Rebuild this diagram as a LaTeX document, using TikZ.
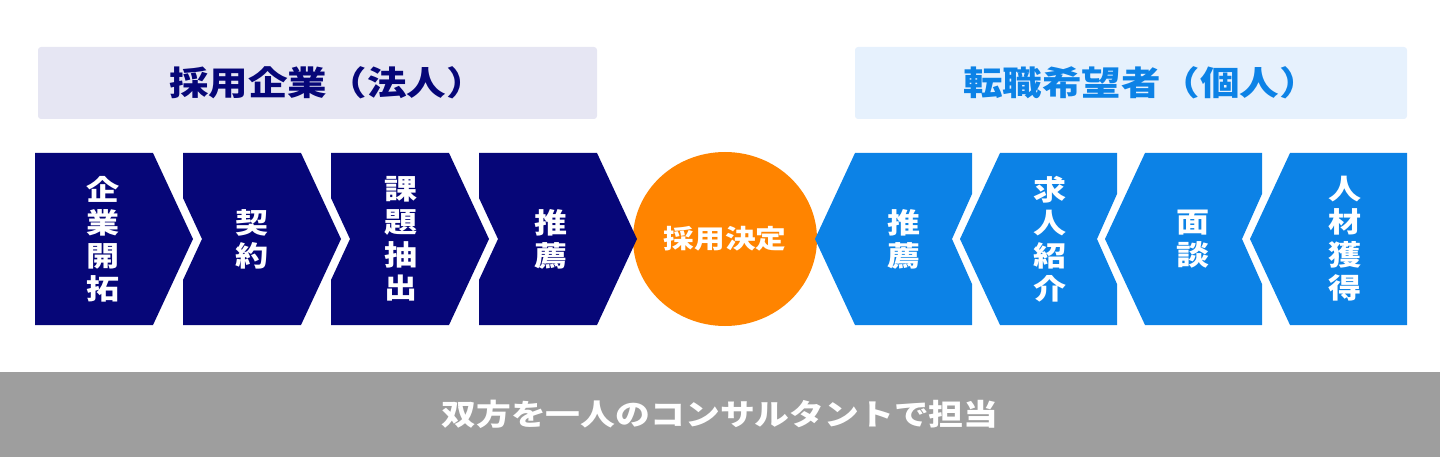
\documentclass[tikz,border=0pt]{standalone}
\usepackage{fontspec}
\usetikzlibrary{shapes.geometric}
\newfontfamily\jpfont{Noto Sans CJK JP}[FakeStretch=1.18]
\definecolor{kon}{RGB}{6,6,120}
\definecolor{ao}{RGB}{12,130,230}
\definecolor{daidai}{RGB}{255,132,0}
\definecolor{usumurasaki}{RGB}{230,230,243}
\definecolor{usuao}{RGB}{230,241,253}
\definecolor{hai}{RGB}{158,158,158}

\begin{document}
\begin{tikzpicture}[x=1pt, y=-1pt,
    midashi/.style={rounded corners=3pt, minimum width=559pt, minimum height=72pt, inner sep=0pt},
    midashimoji/.style={inner sep=0pt, font=\jpfont\bfseries\fontsize{33.5}{38}\selectfont},
    moji/.style={text=white, align=center, inner sep=0pt,
      font=\jpfont\bfseries\fontsize{28}{33}\selectfont}
  ]
    \useasboundingbox (0,0) rectangle (1440,457);

    % headers
    \node[midashi, fill=usumurasaki] (houjin) at (317.5,83) {};
    \node[midashi, minimum width=552pt, fill=usuao] (kojin) at (1131,83) {};
    \node[midashimoji, text=kon] (houjinmoji) at (327.5,83) {採用企業（法人）};
    \node[midashimoji, text=ao] (kojinmoji) at (1141,83) {転職希望者（個人）};

    % center
    \node[ellipse, fill=daidai, minimum width=184pt, minimum height=174pt, inner sep=0pt,
      text=white, font=\jpfont\bfseries\fontsize{26}{30}\selectfont] (kettei) at (725,239) {採用決定};

    % company side
    \fill[kon] (35,153) -- (35,325) -- (153,325) -- (193,239) -- (153,153) -- cycle;
    \fill[kon] (183,153) -- (183,198) -- (202,239) -- (183,280) -- (183,325) -- (301,325) -- (341,239) -- (301,153) -- cycle;
    \fill[kon] (331,153) -- (331,198) -- (350,239) -- (331,280) -- (331,325) -- (449,325) -- (489,239) -- (449,153) -- cycle;
    \fill[kon] (479,153) -- (479,198) -- (498,239) -- (479,280) -- (479,325) -- (597,325) -- (637,239) -- (597,153) -- cycle;

    \node[moji] (kaitaku) at (103,239) {企\\業\\開\\拓};
    \node[moji] (keiyaku) at (252,239) {契\\約};
    \node[moji] (kadai) at (401,239) {課\\題\\抽\\出};
    \node[moji] (suisenL) at (551,239) {推\\薦};

    % candidate side
    \fill[ao] (1407,153) -- (1407,325) -- (1290,325) -- (1250,239) -- (1290,153) -- cycle;
    \fill[ao] (1262,153) -- (1262,194) -- (1242,239) -- (1262,284) -- (1262,325) -- (1145,325) -- (1105,239) -- (1145,153) -- cycle;
    \fill[ao] (1117,153) -- (1117,194) -- (1097,239) -- (1117,284) -- (1117,325) -- (1000,325) -- (960,239) -- (1000,153) -- cycle;
    \fill[ao] (972,153) -- (972,194) -- (952,239) -- (972,284) -- (972,325) -- (855,325) -- (815,239) -- (855,153) -- cycle;

    \node[moji] (kakutoku) at (1345,239) {人\\材\\獲\\得};
    \node[moji] (mendan) at (1193,239) {面\\談};
    \node[moji] (shoukai) at (1050,239) {求\\人\\紹\\介};
    \node[moji] (suisenR) at (904,239) {推\\薦};

    % bottom band
    \node[fill=hai, minimum width=1440pt, minimum height=85pt, inner sep=0pt, text=white,
      font=\jpfont\bfseries\fontsize{29.5}{34}\selectfont] (tantou) at (720,414.5) {双方を一人のコンサルタントで担当};
  \end{tikzpicture}
\end{document}
